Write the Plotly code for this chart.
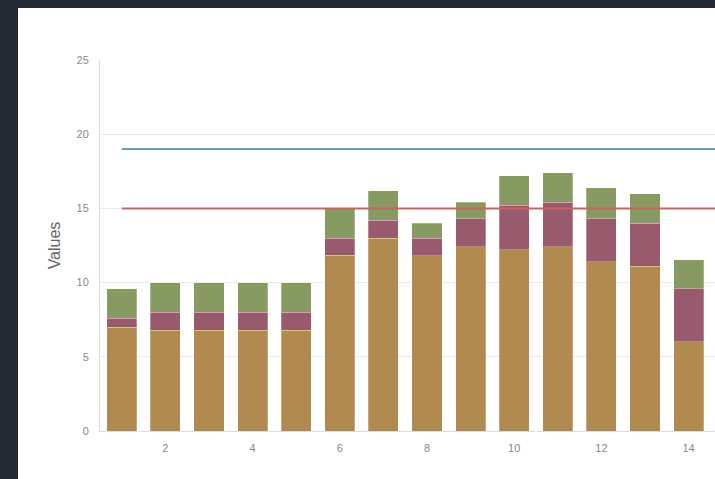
import plotly.graph_objects as go

categories = list(range(1, 15))
series_a = [7.0, 6.8, 6.8, 6.8, 6.8, 11.85, 13.0, 11.8, 12.4, 12.2, 12.4, 11.4, 11.1, 6.0]
series_b = [0.6, 1.2, 1.2, 1.2, 1.2, 1.15, 1.2, 1.2, 1.9, 3.0, 3.0, 2.9, 2.9, 3.6]
series_c = [2.0, 2.0, 2.0, 2.0, 2.0, 2.0, 2.0, 1.0, 1.1, 2.0, 2.0, 2.1, 2.0, 1.95]
line_categories = list(range(1, 16))
target_high = [19] * 15
target_low = [15] * 15

W, H = 715, 479
ML, MR, MT, MB = 100, 0, 60, 48
pw, ph = W - ML - MR, H - MT - MB

def px_x(p):
    return (p - ML) / pw

def px_y(p):
    return (H - MB - p) / ph

fig = go.Figure()
bar_line = dict(color="rgba(255,255,255,0.45)", width=0.6)
fig.add_trace(go.Bar(x=categories, y=series_a, marker=dict(color="#b08a4f", line=bar_line), name="A"))
fig.add_trace(go.Bar(x=categories, y=series_b, marker=dict(color="#9a5a6e", line=bar_line), name="B"))
fig.add_trace(go.Bar(x=categories, y=series_c, marker=dict(color="#869a62", line=bar_line), name="C"))
fig.add_trace(go.Scatter(x=line_categories, y=target_high, mode="lines",
                         line=dict(color="#6a9ea2", width=2), name="High"))
fig.add_trace(go.Scatter(x=line_categories, y=target_low, mode="lines",
                         line=dict(color="#d0605e", width=2), name="Low"))

fig.add_shape(type="rect", xref="paper", yref="paper",
              x0=px_x(18), x1=px_x(W + 5), y0=px_y(H + 5), y1=px_y(8),
              fillcolor="white", line=dict(width=0), layer="below")

fig.update_layout(
    width=W, height=H,
    margin=dict(l=ML, r=MR, t=MT, b=MB),
    paper_bgcolor="#222731",
    plot_bgcolor="white",
    barmode="stack",
    bargap=0.31,
    showlegend=False,
    font=dict(family="Liberation Sans, Arial, sans-serif", color="#888"),
    xaxis=dict(range=[0.5, 0.5 + pw / 43.6], tickmode="linear", tick0=2, dtick=2,
               showgrid=False, zeroline=False, showline=True, linecolor="#dcdcdc",
               linewidth=1, tickfont=dict(size=11, color="#888888"), ticks="",
               ticklabelstandoff=7),
    yaxis=dict(range=[0, 25], tickmode="linear", tick0=0, dtick=5,
               showgrid=True, gridcolor="#e8e8e8", zeroline=False,
               showline=True, linecolor="#dcdcdc", linewidth=1,
               tickfont=dict(size=11, color="#888888"), ticklabelstandoff=8,
               title=dict(text="Values", font=dict(size=16, color="#666666"), standoff=11)),
)

fig.write_html(
    "out.html",
    config={"displayModeBar": False},
    post_script="document.body.style.margin='0';document.body.style.padding='0';"
                "document.body.style.background='#222731';document.body.style.overflow='hidden';",
)
